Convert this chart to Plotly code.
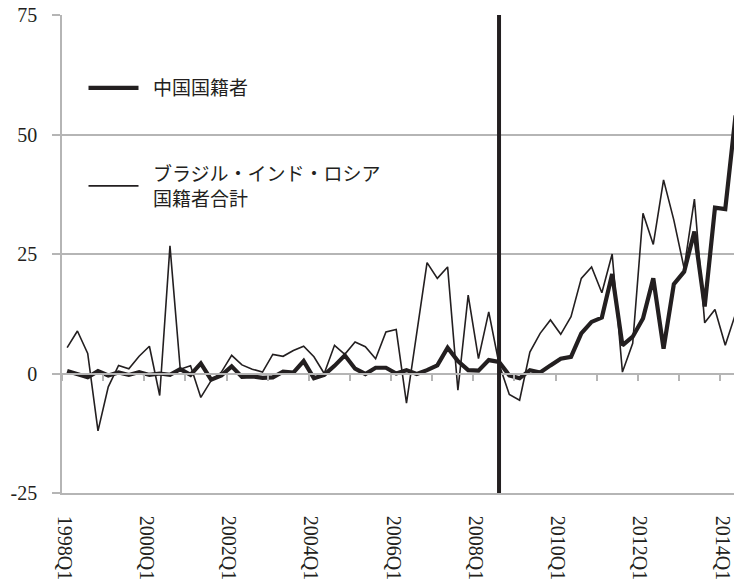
import plotly.graph_objects as go

years = list(range(1998, 2015))
quarters = [f"{y}Q{q}" for y in years for q in range(1, 5)][:66]

china = [0.5, -0.2, -0.8, 0.5, -0.4, 0.2, -0.3, 0.3, -0.3, 0.0,
         -0.3, 0.9, -0.3, 2.1, -1.3, -0.4, 1.5, -0.7, -0.6, -0.9,
         -0.8, 0.4, 0.2, 2.6, -1.0, -0.3, 1.6, 3.8, 1.0, -0.1,
         1.2, 1.2, 0.0, 0.7, -0.1, 0.7, 1.7, 5.4, 2.6, 0.7,
         0.6, 2.8, 2.4, -0.4, -1.0, 0.7, 0.2, 1.7, 3.1, 3.5,
         8.4, 10.8, 11.7, 20.8, 5.9, 7.7, 11.5, 19.9, 5.2, 18.7,
         21.3, 29.7, 14.0, 34.7, 34.4, 54.0]

bir = [5.4, 8.9, 4.2, -12.0, -2.8, 1.7, 1.0, 3.6, 5.7, -4.6,
       26.7, 0.9, 1.6, -5.0, -1.5, 0.3, 3.8, 1.8, 0.9, 0.3,
       4.0, 3.6, 4.8, 5.7, 3.5, 0.0, 5.9, 4.0, 6.6, 5.6,
       3.1, 8.7, 9.2, -6.2, 8.5, 23.2, 19.9, 22.3, -3.5, 16.4,
       3.1, 12.9, 2.0, -4.4, -5.6, 4.5, 8.4, 11.2, 8.2, 11.9,
       19.9, 22.3, 16.9, 25.0, 0.3, 6.3, 33.5, 27.0, 40.5, 32.1,
       22.0, 36.5, 10.6, 13.4, 5.9, 12.5]

tick_labels = ["1998Q1", "2000Q1", "2002Q1", "2004Q1", "2006Q1",
               "2008Q1", "2010Q1", "2012Q1", "2014Q1"]
y_ticks = [-25, 0, 25, 50, 75]
y_tick_text = ["-25", "0", "25", "50", "75"]
crisis_quarter = "2008Q3"

name_china = "\u2002中国国籍者"
name_bir = "\u2002ブラジル・インド・ロシア<br>\u2002国籍者合計"

INK = "#231f20"
GRID = "#b5b5b5"
SERIF = "Liberation Serif, Times New Roman, serif"
JP = "Noto Sans CJK JP, sans-serif"

fig = go.Figure()
fig.add_trace(go.Scatter(x=quarters, y=bir, mode="lines", name=name_bir,
                         line=dict(color=INK, width=1.6), legendgroup="b",
                         legendrank=2))
fig.add_trace(go.Scatter(x=quarters, y=china, mode="lines", name=name_china,
                         line=dict(color=INK, width=4.2), legendgroup="a",
                         legendrank=1))
# helper axis carrying the tick marks on the zero line
fig.add_trace(go.Scatter(x=[None], y=[None], xaxis="x2", showlegend=False,
                         hoverinfo="skip"))

xr = [-0.5, 64.85]
n_bound = len(quarters) // 4 + 1
fig.update_layout(
    width=734, height=586,
    margin=dict(l=61.5, r=0, t=15, b=93, autoexpand=False),
    paper_bgcolor="white", plot_bgcolor="white",
    showlegend=True,
    legend=dict(x=0.032, y=0.887, xanchor="left", yanchor="top",
                bgcolor="rgba(0,0,0,0)", borderwidth=0,
                traceorder="grouped", tracegroupgap=58,
                font=dict(family=JP, size=19, color=INK),
                itemwidth=50),
    xaxis=dict(type="category", range=xr, tickmode="array",
               tickvals=tick_labels, ticktext=tick_labels, tickangle=90,
               ticks="outside", ticklen=17, tickcolor="rgba(0,0,0,0)",
               ticklabelshift=-3,
               showgrid=False, showline=True, linecolor=GRID, linewidth=1.5,
               tickfont=dict(family=SERIF, size=20, color=INK),
               zeroline=False, automargin=False),
    xaxis2=dict(overlaying="x", anchor="free", position=0.25,
                range=xr, tickmode="array",
                tickvals=[4 * k - 0.5 for k in range(n_bound)],
                ticks="outside", ticklen=7, tickcolor=GRID, tickwidth=1.5,
                showticklabels=False, showgrid=False, showline=True,
                linecolor=GRID, linewidth=1.5, zeroline=False,
                automargin=False),
    yaxis=dict(range=[-25, 75], tickmode="array", tickvals=y_ticks,
               ticktext=y_tick_text,
               showgrid=True, gridcolor=GRID, gridwidth=1.5,
               showline=True, linecolor=GRID, linewidth=1.5,
               ticks="outside", ticklen=8, tickcolor=GRID, tickwidth=1.5,
               ticklabelstandoff=11,
               tickfont=dict(family=SERIF, size=20, color=INK),
               zeroline=False, automargin=False),
)
fig.add_shape(type="line", xref="x", yref="paper", x0=crisis_quarter,
              x1=crisis_quarter, y0=0, y1=1,
              line=dict(color=INK, width=4))

fig.write_html("out.html", config={"displayModeBar": False},
               post_script="document.body.style.margin='0';"
                           "document.body.style.padding='0';")
